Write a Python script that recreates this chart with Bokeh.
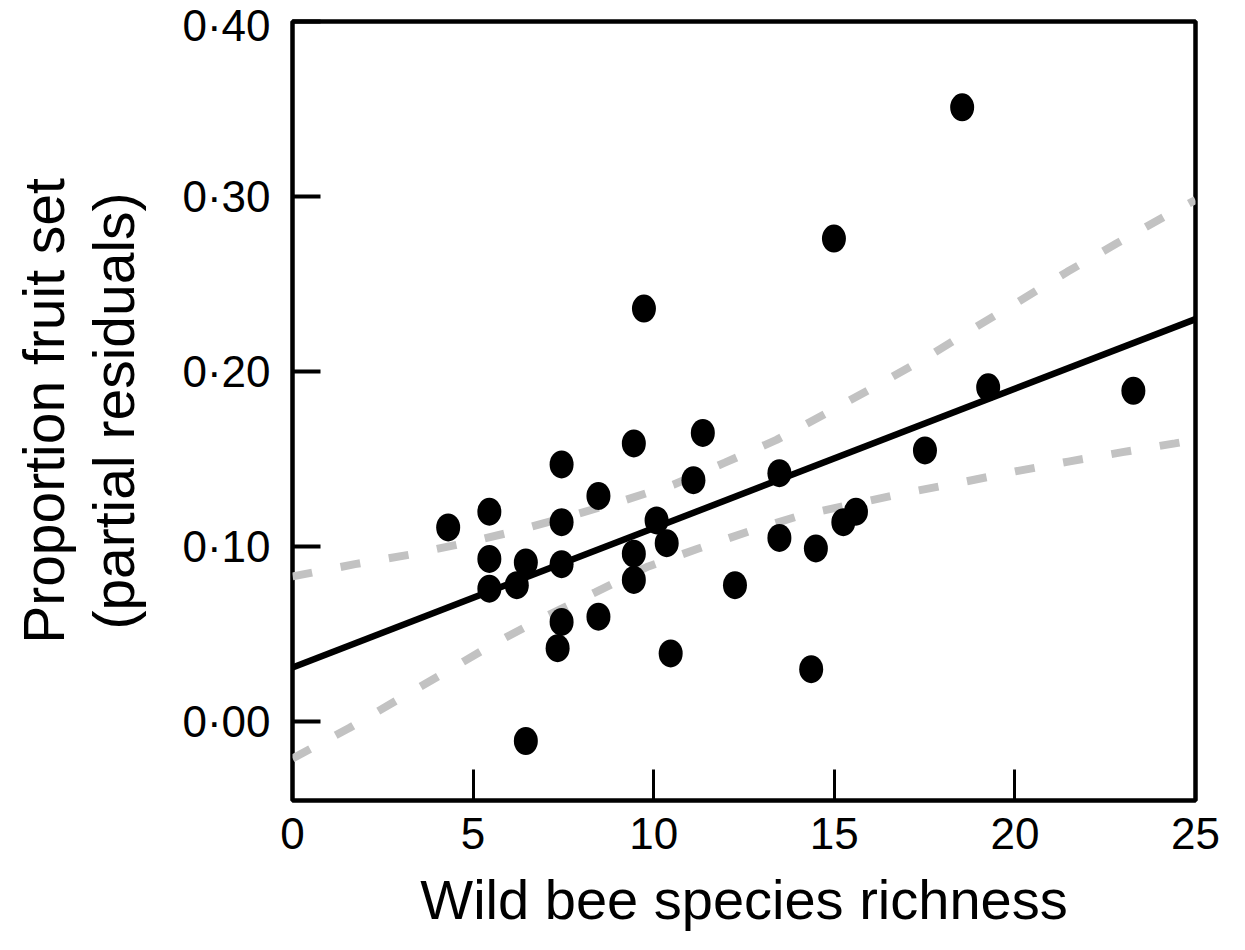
from bokeh.plotting import figure
from bokeh.models import Range1d, FixedTicker, CustomJSTickFormatter, ColumnDataSource
from bokeh.embed import file_html
from bokeh.resources import INLINE

# ---- data ----
richness = [4.31, 5.45, 5.45, 5.45, 6.21, 6.46, 6.46, 7.45, 7.45, 7.45, 7.45, 7.34,
            8.47, 8.47, 9.45, 9.45, 9.45, 9.73, 10.08, 10.36, 10.47, 11.10, 11.36,
            12.25, 13.48, 13.48, 14.49, 14.36, 14.99, 15.25, 15.60, 17.51, 18.54,
            19.26, 23.28]
fruit_set = [0.111, 0.120, 0.093, 0.076, 0.078, 0.091, -0.011, 0.147, 0.114, 0.090,
             0.057, 0.042, 0.129, 0.060, 0.159, 0.096, 0.081, 0.236, 0.115, 0.102,
             0.039, 0.138, 0.165, 0.078, 0.142, 0.105, 0.099, 0.030, 0.276, 0.114,
             0.120, 0.155, 0.351, 0.191, 0.189]

fit_x = [0, 25]
fit_y = [0.031, 0.230]

upper_x = [0, 1.73, 3.23, 4.76, 6.19, 7.77, 9.16, 10.54, 11.97, 13.40, 14.76,
           16.14, 17.47, 18.80, 20.10, 21.45, 22.80, 24.18, 25]
upper_y = [0.083, 0.090, 0.0954, 0.102, 0.109, 0.118, 0.1263, 0.1354, 0.148, 0.161,
           0.176, 0.1916, 0.207, 0.224, 0.240, 0.257, 0.273, 0.289, 0.298]

lower_x = [0, 1.57, 2.92, 4.24, 5.58, 6.97, 8.38, 9.85, 11.20, 12.63, 14.09,
           17.04, 18.54, 20.01, 21.48, 22.98, 24.43, 25]
lower_y = [-0.021, -0.0036, 0.0126, 0.0284, 0.0446, 0.0598, 0.0739, 0.0887, 0.0987,
           0.1087, 0.118, 0.131, 0.1368, 0.143, 0.1486, 0.154, 0.159, 0.161]

x_ticks = [0, 5, 10, 15, 20, 25]
y_ticks = [0.0, 0.1, 0.2, 0.3, 0.4]

x_title = "Wild bee species richness"
y_title = "Proportion fruit set\n(partial residuals)"

FONT = "Liberation Sans"

p = figure(frame_width=903, frame_height=779,
           min_border_left=292, min_border_top=21, min_border_right=45, min_border_bottom=148,
           x_range=Range1d(0, 25), y_range=Range1d(-0.045, 0.40),
           output_backend="svg", toolbar_location=None,
           background_fill_color="white", border_fill_color="white")

p.xgrid.visible = False
p.ygrid.visible = False
p.outline_line_color = "black"
p.outline_line_width = 4.5
p.outline_line_alpha = 1.0

# confidence band lines
p.line(upper_x, upper_y, line_color="#c2c2c2", line_width=8, line_dash="20 29")
p.line(lower_x, lower_y, line_color="#c2c2c2", line_width=8, line_dash="20 29")

# points
src = ColumnDataSource(dict(x=richness, y=fruit_set))
p.ellipse(x="x", y="y", width=24, height=28, width_units="screen", height_units="screen",
          source=src, fill_color="black", line_color=None)

# regression line
p.line(fit_x, fit_y, line_color="black", line_width=6.5)

# axes
xa = p.xaxis[0]
xa.ticker = FixedTicker(ticks=x_ticks)
xa.axis_line_color = None
xa.major_tick_in = 31
xa.major_tick_out = 0
xa.major_tick_line_width = 3
xa.minor_tick_line_color = None
xa.major_label_text_font = FONT
xa.major_label_text_font_size = "44px"
xa.major_label_text_color = "black"
xa.major_label_standoff = 17
xa.axis_label = x_title
xa.axis_label_text_font = FONT
xa.axis_label_text_font_size = "56px"
xa.axis_label_text_font_style = "normal"
xa.axis_label_text_color = "black"
xa.axis_label_standoff = 16

ya = p.yaxis[0]
ya.ticker = FixedTicker(ticks=y_ticks)
ya.formatter = CustomJSTickFormatter(code="return tick.toFixed(2).replace('.', '\u00b7');")
ya.axis_line_color = None
ya.major_tick_in = 28
ya.major_tick_out = 0
ya.major_tick_line_width = 4
ya.minor_tick_line_color = None
ya.major_label_text_font = FONT
ya.major_label_text_font_size = "44px"
ya.major_label_text_color = "black"
ya.major_label_standoff = 22
ya.axis_label = y_title
ya.axis_label_text_font = FONT
ya.axis_label_text_font_size = "57px"
ya.axis_label_text_font_style = "normal"
ya.axis_label_text_color = "black"
ya.axis_label_text_line_height = 1.1
ya.axis_label_standoff = 33

open("out.html", "w").write(file_html(p, INLINE))
